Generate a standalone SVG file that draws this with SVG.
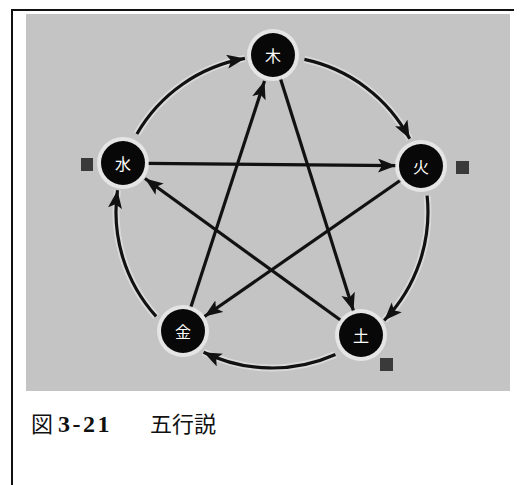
<svg xmlns="http://www.w3.org/2000/svg" width="527" height="485" viewBox="0 0 527 485">
<style>
.frame{stroke:#111;fill:none}
.ln{stroke:#111;stroke-width:3.2;fill:none;marker-end:url(#ah)}
.halo{stroke:#f4f4f4;stroke-width:7;fill:none;opacity:0.45}
.node circle.c{fill:#080808}
.node circle.h{fill:#f4f4f4;opacity:0.7}
.node text{fill:#fff;font-family:"Noto Sans CJK JP","Noto Sans CJK SC",sans-serif;font-size:16px;text-anchor:middle;dominant-baseline:central}
.tag{fill:#3a3a3a}
.cap{font-family:"Noto Sans CJK JP","Noto Sans CJK SC",serif;font-size:22px;fill:#111}
.num{font-family:"Liberation Serif",serif;font-size:24px;font-weight:bold;fill:#111;letter-spacing:2.5px}
</style>
<defs>
<marker id="ah" markerUnits="userSpaceOnUse" markerWidth="20" markerHeight="16" refX="18" refY="7" orient="auto">
<path d="M0,0 L18,7 L0,14 L4,7 z" fill="#111"/>
</marker>
</defs>
<rect x="0" y="0" width="527" height="485" fill="#fff"/>
<path class="frame" d="M12,485 L12,10 L514,10" stroke-width="2"/>
<rect x="26" y="14" width="484" height="377" fill="#c4c4c4"/>
<g id="connectors">
<path class="halo" d="M304.4,59.4 A156,156 0 0 1 409.7,138.8"/>
<path class="halo" d="M427.1,195.7 A156,156 0 0 1 384.2,320.4"/>
<path class="halo" d="M335.4,354.5 A156,156 0 0 1 203.6,352.2"/>
<path class="halo" d="M156.1,316.4 A156,156 0 0 1 117.5,190.3"/>
<path class="halo" d="M136.9,134 A156,156 0 0 1 244.9,58.4"/>
<path class="ln" d="M304.4,59.4 A156,156 0 0 1 409.7,138.8"/>
<path class="ln" d="M427.1,195.7 A156,156 0 0 1 384.2,320.4"/>
<path class="ln" d="M335.4,354.5 A156,156 0 0 1 203.6,352.2"/>
<path class="ln" d="M156.1,316.4 A156,156 0 0 1 117.5,190.3"/>
<path class="ln" d="M136.9,134 A156,156 0 0 1 244.9,58.4"/>
<path class="ln" d="M280.5,78.8 L353.5,311.1"/>
<path class="ln" d="M190.8,307.2 L264.5,81"/>
<path class="ln" d="M148,163.3 L396,165.7"/>
<path class="ln" d="M400.5,180.3 L204.5,316.5"/>
<path class="ln" d="M340.7,320.3 L145,178.5"/>
</g>
<g id="n-wood" class="node"><circle class="h" cx="273" cy="55" r="26"/><circle class="c" cx="273" cy="55" r="22"/><text x="273" y="55">木</text></g>
<g id="n-fire" class="node"><circle class="h" cx="421" cy="166" r="26"/><circle class="c" cx="421" cy="166" r="22"/><text x="421" y="166">火</text></g>
<g id="n-earth" class="node"><circle class="h" cx="361" cy="335" r="26"/><circle class="c" cx="361" cy="335" r="22"/><text x="361" y="335">土</text></g>
<g id="n-metal" class="node"><circle class="h" cx="183" cy="331" r="26"/><circle class="c" cx="183" cy="331" r="22"/><text x="183" y="331">金</text></g>
<g id="n-water" class="node"><circle class="h" cx="123" cy="163" r="26"/><circle class="c" cx="123" cy="163" r="22"/><text x="123" y="163">水</text></g>
<rect class="tag" x="81" y="158" width="12" height="13"/>
<rect class="tag" x="456" y="161" width="13" height="13"/>
<rect class="tag" x="380" y="358" width="13" height="13"/>
<text class="cap" x="31" y="432">図</text>
<text class="num" x="58" y="432">3-21</text>
<text class="cap" x="150" y="432">五行説</text>
</svg>
